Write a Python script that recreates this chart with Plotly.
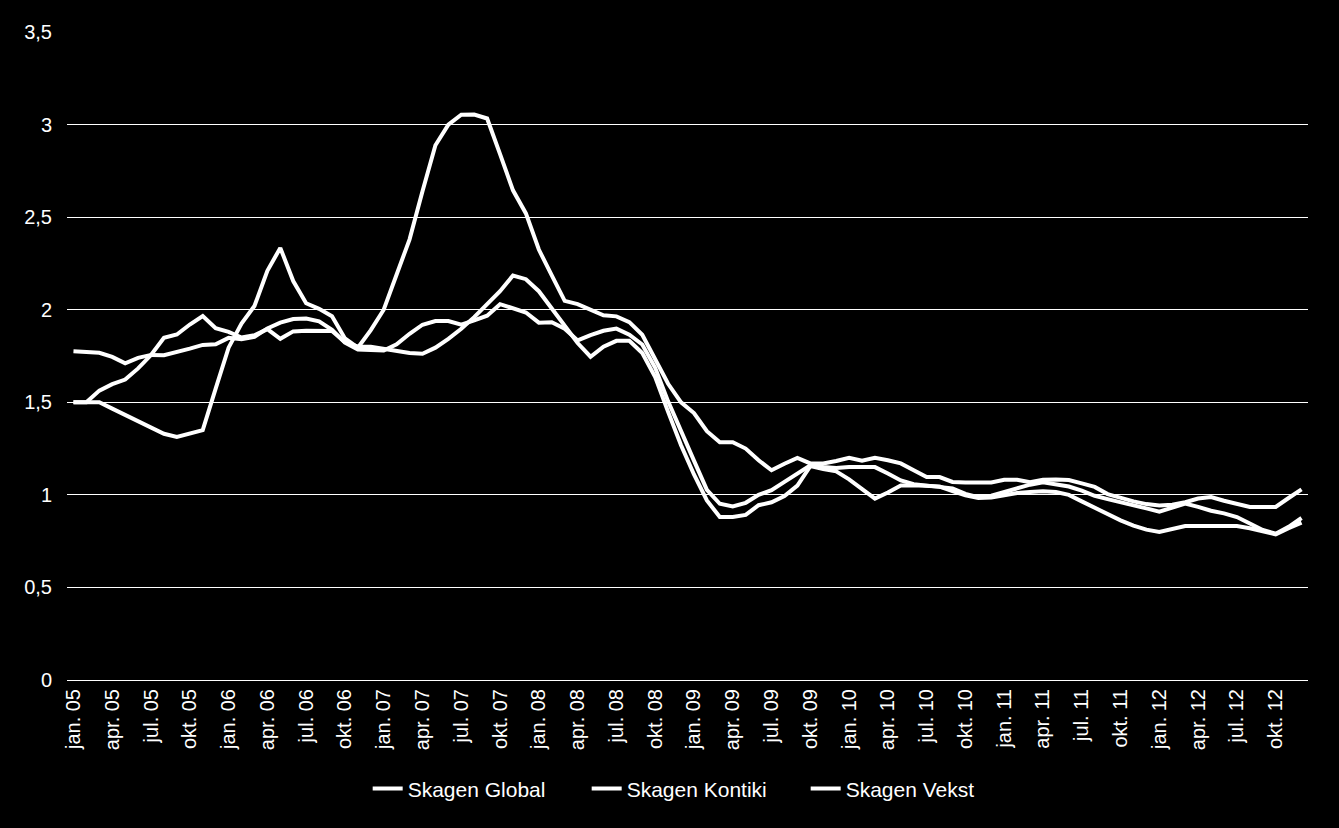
import plotly.graph_objects as go

months = ["jan.", "feb.", "mar.", "apr.", "mai", "jun.", "jul.", "aug.", "sep.", "okt.", "nov.", "des."]
years = ["05", "06", "07", "08", "09", "10", "11", "12"]
categories = [f"{m} {y}" for y in years for m in months]
tick_categories = categories[::3]

y_ticks = [0, 0.5, 1, 1.5, 2, 2.5, 3, 3.5]
y_tick_labels = ["0", "0,5", "1", "1,5", "2", "2,5", "3", "3,5"]

skagen_kontiki = [
    1.5, 1.5, 1.5, 1.466, 1.432, 1.398, 1.364, 1.33, 1.313, 1.33,
    1.35, 1.574, 1.795, 1.925, 2.02, 2.21, 2.334, 2.155, 2.035, 2.005,
    1.965, 1.845, 1.795, 1.89, 2.0, 2.19, 2.38, 2.64, 2.888, 3.0,
    3.053, 3.054, 3.033, 2.84, 2.645, 2.52, 2.325, 2.185, 2.048, 2.03,
    1.998, 1.97, 1.964, 1.933, 1.865, 1.73, 1.60, 1.50, 1.442, 1.344,
    1.284, 1.284, 1.25, 1.187, 1.133, 1.168, 1.20, 1.17, 1.17, 1.183,
    1.20, 1.184, 1.20, 1.187, 1.17, 1.133, 1.096, 1.096, 1.07, 1.067,
    1.067, 1.067, 1.082, 1.082, 1.068, 1.082, 1.083, 1.08, 1.062, 1.043,
    1.004, 0.982, 0.965, 0.95, 0.942, 0.947, 0.96, 0.98, 0.988, 0.968,
    0.95, 0.935, 0.935, 0.935, 0.983, 1.03,
]

skagen_global = [
    1.775, 1.77, 1.767, 1.745, 1.71, 1.74, 1.756, 1.754, 1.77, 1.79,
    1.81, 1.813, 1.848, 1.84, 1.853, 1.899, 1.93, 1.95, 1.952, 1.937,
    1.891, 1.822, 1.785, 1.78, 1.78, 1.813, 1.87, 1.919, 1.939, 1.939,
    1.919, 1.942, 1.968, 2.03, 2.005, 1.985, 1.93, 1.932, 1.897, 1.834,
    1.863, 1.886, 1.898, 1.865, 1.812, 1.686, 1.505, 1.34, 1.185, 1.027,
    0.952, 0.937, 0.957, 1.0, 1.025, 1.07, 1.112, 1.16, 1.15, 1.145,
    1.15, 1.15, 1.15, 1.115, 1.078, 1.058, 1.05, 1.04, 1.035, 1.005,
    0.988, 0.995, 1.015, 1.035, 1.055, 1.068, 1.055, 1.045, 1.023, 0.995,
    0.977, 0.962, 0.945, 0.927, 0.909, 0.93, 0.953, 0.935, 0.914, 0.9,
    0.88, 0.845, 0.81, 0.79, 0.827, 0.875,
]

skagen_vekst = [
    1.5, 1.5, 1.563, 1.598, 1.623, 1.683, 1.755, 1.848, 1.866, 1.92,
    1.966, 1.90, 1.88, 1.85, 1.862, 1.895, 1.843, 1.883, 1.886, 1.886,
    1.885, 1.825, 1.80, 1.80, 1.79, 1.78, 1.766, 1.762, 1.795, 1.843,
    1.897, 1.96, 2.03, 2.10, 2.185, 2.165, 2.10, 2.005, 1.906, 1.82,
    1.746, 1.80, 1.832, 1.832, 1.766, 1.636, 1.448, 1.268, 1.11, 0.97,
    0.88, 0.88, 0.892, 0.944, 0.96, 0.993, 1.05, 1.155, 1.14, 1.127,
    1.084, 1.032, 0.98, 1.013, 1.05, 1.052, 1.05, 1.045, 1.02, 0.998,
    0.983, 0.986, 0.998, 1.01, 1.016, 1.02, 1.015, 1.0, 0.965, 0.93,
    0.893, 0.862, 0.834, 0.812, 0.8, 0.816, 0.832, 0.832, 0.832, 0.832,
    0.832, 0.82, 0.803, 0.787, 0.82, 0.85,
]

series = [
    ("Skagen Global", skagen_global),
    ("Skagen Kontiki", skagen_kontiki),
    ("Skagen Vekst", skagen_vekst),
]

FONT = "Liberation Sans, Arial, sans-serif"

fig = go.Figure()
for name, vals in series:
    fig.add_trace(go.Scatter(
        x=categories, y=vals, name=name, mode="lines",
        line=dict(color="#ffffff", width=4),
    ))

fig.update_layout(
    width=1339, height=828,
    paper_bgcolor="#000000", plot_bgcolor="#000000",
    margin=dict(l=67, r=31, t=32, b=148),
    font=dict(family=FONT, color="#ffffff", size=20),
    showlegend=True,
    legend=dict(
        orientation="h", x=0.507, xanchor="center", y=-0.168, yanchor="middle",
        font=dict(family=FONT, size=21, color="#ffffff"),
        bgcolor="rgba(0,0,0,0)", itemwidth=30,
        entrywidth=174, entrywidthmode="pixels",
    ),
    xaxis=dict(
        type="category", categoryorder="array", categoryarray=categories,
        range=[-0.5, 95.5],
        tickmode="array", tickvals=tick_categories, ticktext=tick_categories,
        tickangle=-90, tickfont=dict(family=FONT, size=20, color="#ffffff"),
        showgrid=False, showline=True, linecolor="#ffffff", linewidth=1,
        ticks="", zeroline=False,
    ),
    yaxis=dict(
        range=[0, 3.5], tickmode="array", tickvals=y_ticks, ticktext=y_tick_labels,
        tickfont=dict(family=FONT, size=20, color="#ffffff"),
        showgrid=True, gridcolor="#ffffff", gridwidth=1,
        zeroline=False, showline=False, ticks="", ticklabelstandoff=14,
    ),
)

fig.write_html("out.html")
